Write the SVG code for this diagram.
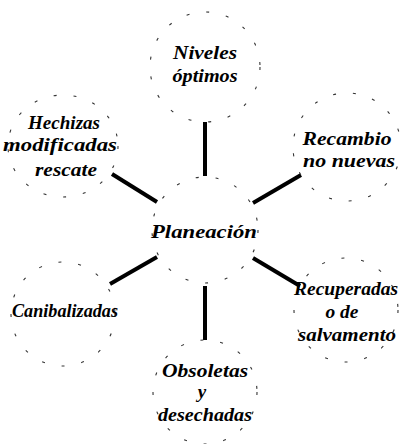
<svg xmlns="http://www.w3.org/2000/svg" width="400" height="444" viewBox="0 0 400 444">
<style>
.c{fill:none;stroke:#333;stroke-width:1.1;stroke-dasharray:3 17}
.t{font-family:"Liberation Serif","Times New Roman",serif;font-style:italic;font-weight:bold;font-size:19px;fill:#000;text-anchor:middle}
.k{stroke:#000;stroke-width:4;stroke-linecap:butt}
</style>
<rect width="400" height="444" fill="#fff"/>
<g id="connectors">
<line class="k" x1="205" y1="122" x2="205" y2="176"/>
<line class="k" x1="112" y1="174" x2="157" y2="202"/>
<line class="k" x1="253" y1="203" x2="301" y2="175"/>
<line class="k" x1="157" y1="257" x2="110" y2="284"/>
<line class="k" x1="253" y1="258" x2="300" y2="286"/>
<line class="k" x1="205" y1="286" x2="205" y2="340"/>
</g>
<g id="center">
<circle class="c" cx="205" cy="230" r="53"/>
<text class="t" x="204" y="238" font-size="21" textLength="106" lengthAdjust="spacingAndGlyphs">Planeación</text>
</g>
<g id="niveles">
<circle class="c" cx="205" cy="67" r="55"/>
<text class="t" x="205" y="59" textLength="64" lengthAdjust="spacingAndGlyphs">Niveles</text>
<text class="t" x="205" y="82" textLength="65" lengthAdjust="spacingAndGlyphs">óptimos</text>
</g>
<g id="hechizas">
<ellipse class="c" cx="63" cy="146" rx="55" ry="51"/>
<text class="t" x="64" y="129" textLength="72" lengthAdjust="spacingAndGlyphs">Hechizas</text>
<text class="t" x="60" y="151" textLength="114" lengthAdjust="spacingAndGlyphs">modificadas</text>
<text class="t" x="66" y="176" textLength="62" lengthAdjust="spacingAndGlyphs">rescate</text>
</g>
<g id="recambio">
<circle class="c" cx="347" cy="147" r="54"/>
<text class="t" x="347" y="145" textLength="89" lengthAdjust="spacingAndGlyphs">Recambio</text>
<text class="t" x="349" y="167" textLength="92" lengthAdjust="spacingAndGlyphs">no nuevas</text>
</g>
<g id="canibalizadas">
<circle class="c" cx="63" cy="314" r="52"/>
<text class="t" x="65" y="317" textLength="106" lengthAdjust="spacingAndGlyphs">Canibalizadas</text>
</g>
<g id="recuperadas">
<circle class="c" cx="346" cy="310" r="52"/>
<text class="t" x="346" y="295" textLength="104" lengthAdjust="spacingAndGlyphs">Recuperadas</text>
<text class="t" x="342" y="318" textLength="33" lengthAdjust="spacingAndGlyphs">o de</text>
<text class="t" x="347" y="341" textLength="98" lengthAdjust="spacingAndGlyphs">salvamento</text>
</g>
<g id="obsoletas">
<circle class="c" cx="205" cy="392" r="52"/>
<text class="t" x="205" y="377" textLength="86" lengthAdjust="spacingAndGlyphs">Obsoletas</text>
<text class="t" x="202" y="398">y</text>
<text class="t" x="205" y="421" textLength="94" lengthAdjust="spacingAndGlyphs">desechadas</text>
</g>
</svg>
